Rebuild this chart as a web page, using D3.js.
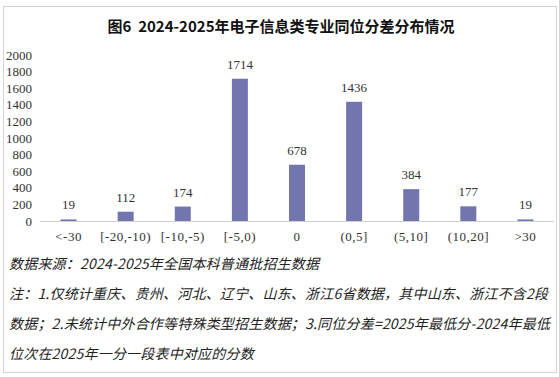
<!DOCTYPE html>
<html>
<head>
<meta charset="utf-8">
<script src="https://cdn.jsdelivr.net/npm/d3@7"></script>
<style>
  body { margin: 0; background: #fff; }
  svg { display: block; }
</style>
</head>
<body>
<div id="chart"></div>
<script>
const title = "图6  2024-2025年电子信息类专业同位分差分布情况";
const categories = ["<-30", "[-20,-10)", "[-10,-5)", "[-5,0)", "0", "(0,5]", "(5,10]", "(10,20]", ">30"];
const counts = [19, 112, 174, 1714, 678, 1436, 384, 177, 19];
const yTicks = [0, 200, 400, 600, 800, 1000, 1200, 1400, 1600, 1800, 2000];
const notes = [
  "数据来源：2024-2025年全国本科普通批招生数据",
  "注：1.仅统计重庆、贵州、河北、辽宁、山东、浙江6省数据，其中山东、浙江不含2段",
  "数据；2.未统计中外合作等特殊类型招生数据；3.同位分差=2025年最低分-2024年最低",
  "位次在2025年一分一段表中对应的分数"
];

const W = 559, H = 377;
const serif = "'Liberation Serif', 'Times New Roman', serif";
const cjk = "'Noto Sans CJK SC', sans-serif";

const svg = d3.select("#chart").append("svg")
  .attr("width", W).attr("height", H);

// outer frame
svg.append("rect")
  .attr("x", 3.5).attr("y", 6.5).attr("width", 553).attr("height", 366)
  .attr("fill", "#fff").attr("stroke", "#d4d4d4");

svg.append("text")
  .attr("x", 281).attr("y", 32)
  .attr("text-anchor", "middle")
  .style("white-space", "pre")
  .style("font-family", cjk).style("font-weight", "bold").style("font-size", "15px")
  .attr("fill", "#111")
  .text(title);

const x = d3.scaleBand().domain(categories).range([40, 554]).paddingInner(0.72).paddingOuter(0.36);
const y = d3.scaleLinear().domain([0, 2000]).range([221, 55]);

// y labels (no axis line)
svg.append("g").selectAll("text")
  .data(yTicks).join("text")
  .attr("x", 32).attr("y", d => y(d)).attr("dy", "0.35em")
  .attr("text-anchor", "end")
  .style("font-family", serif).style("font-size", "13px")
  .attr("fill", "#333")
  .text(d => d);

// bars
svg.append("g").selectAll("rect")
  .data(counts).join("rect")
  .attr("x", (d, i) => x(categories[i]))
  .attr("y", d => y(d))
  .attr("width", x.bandwidth())
  .attr("height", d => y(0) - y(d))
  .attr("fill", "#7376ae");

// category axis
const xAxis = svg.append("g")
  .attr("transform", `translate(0,${y(0)})`)
  .call(d3.axisBottom(x).tickSize(0).tickPadding(11));
xAxis.select(".domain").attr("stroke", "#d0d0d0").attr("d", "M40,0.5H554");
xAxis.selectAll("text")
  .style("font-family", serif).style("font-size", "13px")
  .style("letter-spacing", "0.5px")
  .attr("fill", "#333");

// value labels
svg.append("g").selectAll("text")
  .data(counts).join("text")
  .attr("x", (d, i) => x(categories[i]) + x.bandwidth() / 2)
  .attr("y", d => y(d) - 10)
  .attr("text-anchor", "middle")
  .style("font-family", serif).style("font-size", "13px")
  .attr("fill", "#333")
  .text(d => d);

// notes
svg.append("g").selectAll("text")
  .data(notes).join("text")
  .attr("x", 9).attr("y", (d, i) => 269 + i * 30)
  .style("font-family", cjk).style("font-style", "italic").style("font-size", "14px")
  .style("letter-spacing", "0.2px")
  .attr("fill", "#222")
  .text(d => d);
</script>
</body>
</html>
